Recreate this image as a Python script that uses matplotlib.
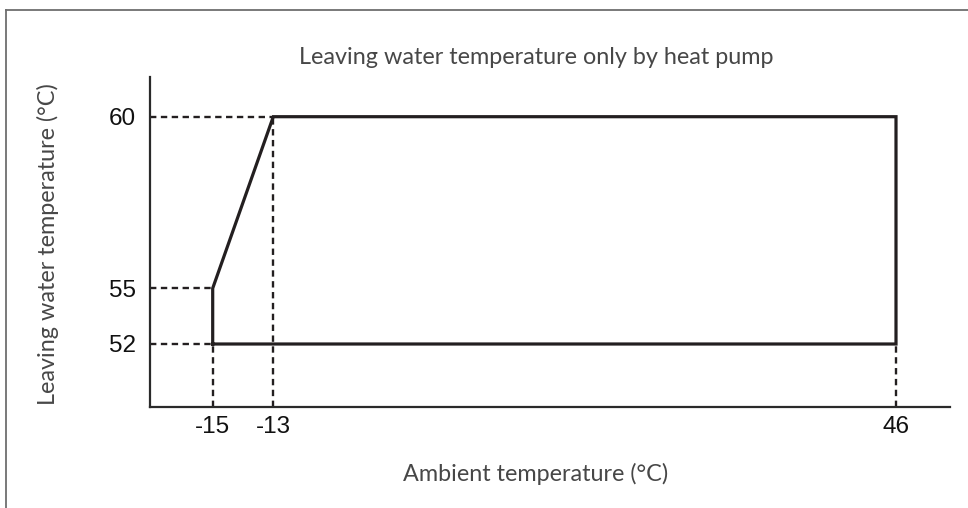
import numpy as np
import matplotlib
matplotlib.use("Agg")
import matplotlib.pyplot as plt
from matplotlib.lines import Line2D

# Operating envelope: leaving water temperature vs ambient temperature
ambient_ticks = [-15, -13, 46]
water_ticks = [52, 55, 60]

envelope_ambient = [-15, -15, -13, 46, 46, -15]
envelope_water = [52, 55, 60, 60, 52, 52]

title = "Leaving water temperature only by heat pump"
xlabel = "Ambient temperature (°C)"
ylabel = "Leaving water temperature (°C)"

W, H, DPI = 968, 508, 100
ink = "#231f20"
text_grey = "#474747"

plt.rcParams["font.family"] = ["Liberation Sans", "DejaVu Sans"]


def piecewise(data_pts, pos_pts):
    """Schematic (non-proportional) axis: piecewise-linear with linear extension."""
    d = np.asarray(data_pts, float)
    p = np.asarray(pos_pts, float)

    def _map(v, a, b):
        v = np.asarray(v, float)
        out = np.interp(v, a, b)
        lo_slope = (b[1] - b[0]) / (a[1] - a[0])
        hi_slope = (b[-1] - b[-2]) / (a[-1] - a[-2])
        out = np.where(v < a[0], b[0] + (v - a[0]) * lo_slope, out)
        out = np.where(v > a[-1], b[-1] + (v - a[-1]) * hi_slope, out)
        return out

    return (lambda v: _map(v, d, p)), (lambda v: _map(v, p, d))


# axis breakpoints (data value -> pixel position along the axis)
x_break_data = [-17.1, -15, -13, 46, 50]
x_break_pix = [149.7, 212.7, 273.3, 896.0, 950.0]
y_break_data = [50, 52, 55, 60, 62]
y_break_pix = [-407.3, -344.0, -288.3, -116.7, -77.0]

fig = plt.figure(figsize=(W / DPI, H / DPI), dpi=DPI)
ax_left, ax_right = x_break_pix[0] / W, x_break_pix[-1] / W
ax_bottom, ax_top = (H + y_break_pix[0]) / H, (H + y_break_pix[-1]) / H
ax = fig.add_axes([ax_left, ax_bottom, ax_right - ax_left, ax_top - ax_bottom])

ax.set_xscale("function", functions=piecewise(x_break_data, x_break_pix))
ax.set_yscale("function", functions=piecewise(y_break_data, y_break_pix))
ax.set_xlim(x_break_data[0], x_break_data[-1])
ax.set_ylim(y_break_data[0], y_break_data[-1])

# dashed guide lines from the axes to the envelope corners
dash_kw = dict(color=ink, lw=1.7, dashes=(2.7, 1.9), solid_capstyle="butt")
xmin, ymin = x_break_data[0], y_break_data[0]
ax.plot([xmin, -13], [60, 60], **dash_kw)
ax.plot([xmin, -15], [55, 55], **dash_kw)
ax.plot([xmin, -15], [52, 52], **dash_kw)
ax.plot([-15, -15], [ymin, 52], **dash_kw)
ax.plot([-13, -13], [ymin, 60], **dash_kw)
ax.plot([46, 46], [ymin, 52], **dash_kw)

# envelope outline
ax.plot(envelope_ambient, envelope_water, color=ink, lw=2.3,
        solid_joinstyle="miter", zorder=3)

for side in ("top", "right"):
    ax.spines[side].set_visible(False)
for side in ("left", "bottom"):
    ax.spines[side].set_color("#2a2a2a")
    ax.spines[side].set_linewidth(1.6)

ax.set_xticks(ambient_ticks)
ax.set_xticklabels([str(v) for v in ambient_ticks])
ax.set_yticks(water_ticks)
ax.set_yticklabels([str(v) for v in water_ticks])
ax.xaxis.set_minor_locator(matplotlib.ticker.NullLocator())
ax.yaxis.set_minor_locator(matplotlib.ticker.NullLocator())
ax.tick_params(axis="both", length=0, labelsize=17.5, colors="#111111")
ax.tick_params(axis="x", pad=6)
ax.tick_params(axis="y", pad=10)

label_font = dict(family="Lato", weight="normal", color=text_grey, size=16.8)
fig.text(536 / W, 1 - 57 / H, title, ha="center", va="center", **label_font)
fig.text(536 / W, 1 - 474 / H, xlabel, ha="center", va="center", **label_font)
fig.text(48 / W, 1 - 244 / H, ylabel, ha="center", va="center",
         rotation=90, **label_font)

# outer frame (top and left edges)
frame_kw = dict(color="#6e6e6e", lw=1.3, transform=None)
fig.add_artist(Line2D([6.3, W], [H - 9.7, H - 9.7], **frame_kw))
fig.add_artist(Line2D([6.3, 6.3], [0, H - 9.7], **frame_kw))

fig.savefig("out.png", dpi=DPI)
